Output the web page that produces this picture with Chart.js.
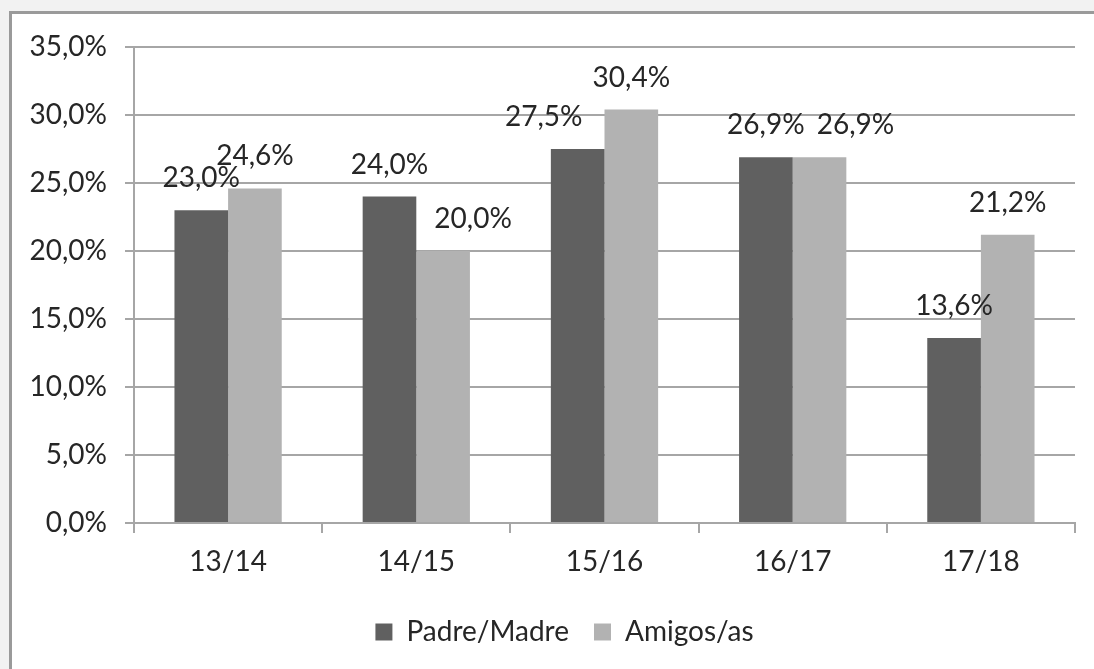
<!DOCTYPE html>
<html>
<head>
<meta charset="utf-8">
<script src="https://cdn.jsdelivr.net/npm/chart.js@4.4.1/dist/chart.umd.min.js"></script>
<style>
  html, body { margin: 0; padding: 0; width: 1094px; height: 669px; overflow: hidden; background: #f2f2f2; }
  #frame { position: absolute; left: 9px; top: 11px; width: 1200px; height: 800px; border: 3px solid #9a9a9a; background: #ffffff; }
  #wrap { position: absolute; left: 0; top: 0; width: 1094px; height: 669px; }
</style>
</head>
<body>
<div id="frame"></div>
<div id="wrap"><canvas id="c" width="1094" height="669"></canvas></div>
<script>
const categories = ["13/14", "14/15", "15/16", "16/17", "17/18"];
const padreMadre = [23.0, 24.0, 27.5, 26.9, 13.6];
const amigos = [24.6, 20.0, 30.4, 26.9, 21.2];
const seriesNames = ["Padre/Madre", "Amigos/as"];
const yTicks = [0, 5, 10, 15, 20, 25, 30, 35];

const FONT = "Lato, 'Open Sans', sans-serif";
const FS = 28;
const TEXT = "#262626";
const fmt = v => v.toFixed(1).replace('.', ',') + '%';

// horizontal nudges of overlapping labels (style only)
const labelNudge = { "0-2": -34, "1-1": 30, "1-3": 36 };

const barLabels = {
  id: 'barLabels',
  afterDatasetsDraw(chart) {
    const ctx = chart.ctx;
    ctx.save();
    ctx.font = FS + "px " + FONT;
    ctx.fillStyle = TEXT;
    ctx.textAlign = 'center';
    ctx.textBaseline = 'alphabetic';
    chart.data.datasets.forEach((ds, di) => {
      chart.getDatasetMeta(di).data.forEach((bar, i) => {
        const dx = labelNudge[di + '-' + i] || 0;
        ctx.fillText(fmt(ds.data[i]), bar.x + dx, bar.y - 23);
      });
    });
    ctx.restore();
  }
};

// shift the legend block so it is centred like the original
const legendShift = {
  id: 'legendShift',
  beforeDraw(chart) {
    if (chart.legend) { chart.legend.left = 54; }
  }
};

new Chart(document.getElementById('c'), {
  type: 'bar',
  data: {
    labels: categories,
    datasets: [
      { label: seriesNames[0], data: padreMadre, backgroundColor: '#606060', categoryPercentage: 0.57, barPercentage: 1.0 },
      { label: seriesNames[1], data: amigos, backgroundColor: '#b2b2b2', categoryPercentage: 0.57, barPercentage: 1.0 }
    ]
  },
  options: {
    responsive: false,
    animation: false,
    devicePixelRatio: 1,
    layout: { padding: { top: 47, right: 19, left: 0, bottom: 13 } },
    plugins: {
      title: { display: false },
      tooltip: { enabled: false },
      legend: {
        position: 'bottom',
        labels: {
          font: { family: FONT, size: FS },
          color: TEXT,
          boxWidth: 17,
          boxHeight: 17,
          padding: 25
        }
      }
    },
    scales: {
      x: {
        grid: { offset: true, drawOnChartArea: false, drawTicks: true, tickLength: 10, color: '#a6a6a6', lineWidth: 2 },
        border: { color: '#a6a6a6', width: 2 },
        ticks: { font: { family: FONT, size: FS }, color: TEXT, padding: 12 },
        afterFit(s) { s.height = 70; }
      },
      y: {
        min: 0,
        max: 35,
        afterBuildTicks(s) { s.ticks = yTicks.map(v => ({ value: v })); },
        grid: { color: '#a6a6a6', lineWidth: 2, tickLength: 9 },
        border: { color: '#a6a6a6', width: 2 },
        ticks: { font: { family: FONT, size: FS }, color: TEXT, padding: 18, callback: v => fmt(v) },
        afterFit(s) { s.width = 134; }
      }
    }
  },
  plugins: [barLabels, legendShift]
});
</script>
</body>
</html>
